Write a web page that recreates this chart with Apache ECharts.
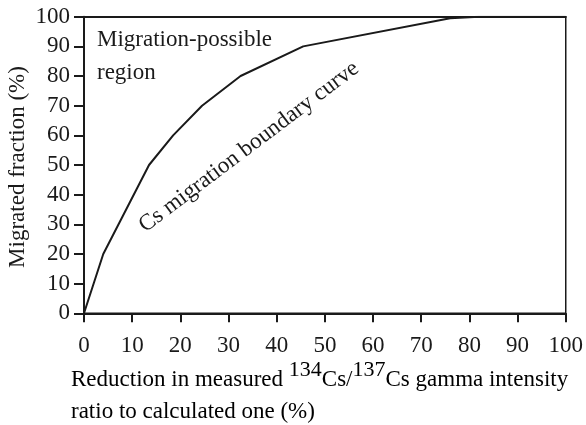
<!DOCTYPE html>
<html><head><meta charset="utf-8">
<script src="https://cdn.jsdelivr.net/npm/echarts@6/dist/echarts.min.js"></script>
<style>html,body{margin:0;padding:0;background:#fff}#c{width:586px;height:425px}</style>
</head><body><div id="c"></div>
<script>
const reductionPct = [0, 4, 13.5, 18.5, 24.5, 32.5, 45.5, 76, 82, 100];
const migratedPct = [0, 20, 50, 60, 70, 80, 90, 99.5, 100, 100];
const xTicks = [0,10,20,30,40,50,60,70,80,90,100];
const yTicks = [0,10,20,30,40,50,60,70,80,90,100];

const FONT = '"Liberation Serif", "Times New Roman", serif';
const INK = '#1a1a1a';
const chart = echarts.init(document.getElementById('c'), null, {renderer:'canvas'});
chart.setOption({
  animation: false,
  backgroundColor: '#fff',
  grid: {left: 84, right: 19.5, top: 16.7, bottom: 111.7, show: true, borderColor: INK, borderWidth: 1.5, backgroundColor: 'transparent'},
  xAxis: [{
    type: 'value', min: xTicks[0], max: xTicks[xTicks.length-1], interval: 10,
    axisLine: {lineStyle: {color: INK, width: 2}},
    axisTick: {inside: false, length: 9, lineStyle: {color: INK, width: 2}},
    axisLabel: {fontFamily: FONT, fontSize: 23, color: INK, margin: 21},
    splitLine: {show: false}
  }, {
    type: 'value', position: 'top', min: 0, max: 100,
    axisLine: {show: true, lineStyle: {color: INK, width: 2}},
    axisTick: {show: false}, axisLabel: {show: false}, splitLine: {show: false}
  }],
  yAxis: {
    type: 'value', min: yTicks[0], max: yTicks[yTicks.length-1], interval: 10,
    axisLine: {show: true, lineStyle: {color: INK, width: 2}},
    axisTick: {show: true, inside: false, length: 10, lineStyle: {color: INK, width: 2}},
    axisLabel: {fontFamily: FONT, fontSize: 23, color: INK, margin: 14},
    splitLine: {show: false}
  },
  series: [{
    type: 'line',
    data: reductionPct.map((x, i) => [x, migratedPct[i]]),
    symbol: 'none',
    lineStyle: {color: INK, width: 2},
    z: 5
  }],
  graphic: [
    {type: 'text', left: 97, top: 23, style: {text: 'Migration-possible\nregion', font: '23px ' + FONT, fill: INK, lineHeight: 33}},
    {type: 'text', x: 249, y: 147, rotation: 37 * Math.PI / 180,
     style: {text: 'Cs migration boundary curve', font: '23px ' + FONT, fill: INK, align: 'center', verticalAlign: 'middle'}},
    {type: 'text', x: 18, y: 167, rotation: Math.PI / 2,
     style: {text: 'Migrated fraction (%)', font: '23px ' + FONT, fill: INK, align: 'center', verticalAlign: 'middle'}},
    {type: 'text', left: 71, top: 359,
     style: {
       text: '{n|Reduction in measured }{s|134}{n|Cs/}{s|137}{n|Cs gamma intensity}\n{n|ratio to calculated one (%)}',
       rich: {
         n: {fontFamily: FONT, fontSize: 23, color: INK, lineHeight: 32, verticalAlign: 'bottom'},
         s: {fontFamily: FONT, fontSize: 22, color: INK, lineHeight: 22, verticalAlign: 'top', padding: [0,0,0,0]}
       }
     }}
  ]
});
</script>
</body></html>
